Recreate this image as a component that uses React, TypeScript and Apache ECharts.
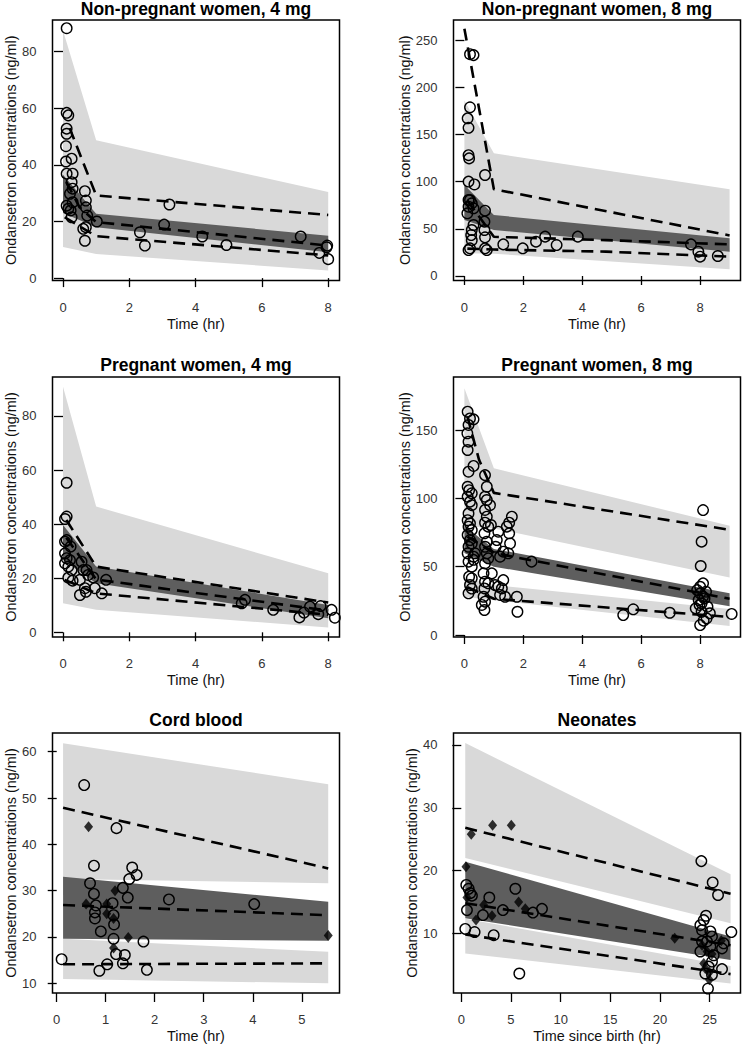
import React, { useEffect, useRef } from "react";
import * as echarts from "echarts";

const FONT = "'Liberation Sans', Arial, Helvetica, sans-serif";
const LIGHT = "#d9d9d9";
const DARK = "#5e5e5e";

const yAxisName = "Ondansetron concentrations (ng/ml)";
const xAxisName = "Time (hr)";
const xAxisNameNeonates = "Time since birth (hr)";

// ---------- Panel 1: Non-pregnant women, 4 mg ----------
const p1Title = "Non-pregnant women, 4 mg";
const p1XTicks = [0, 2, 4, 6, 8];
const p1YTicks = [0, 20, 40, 60, 80];
const p1BandTime = [0, 1, 8];
const p1UpperPIHi = [87.5, 48.7, 30.4];
const p1UpperPILo = [22, 17, 8];
const p1MedianCIHi = [36.5, 22.7, 15];
const p1MedianCILo = [23, 18, 9.1];
const p1LowerPIHi = [25, 19, 10];
const p1LowerPILo = [11, 8.5, 2.7];
const p1ObsHiTime = [0.2, 1, 8];
const p1ObsHi = [53, 29.2, 22.3];
const p1ObsMedTime = [0.1, 0.5, 1, 8];
const p1ObsMed = [34, 25, 19.8, 11.5];
const p1ObsLoTime = [0.05, 1, 8];
const p1ObsLo = [21.5, 14.8, 8];
const p1Obs = [
  [0.11, 88.3], [0.11, 58.4], [0.16, 57.5], [0.11, 52.8], [0.11, 51], [0.09, 46.6], [0.09, 41.2],
  [0.26, 42.2], [0.11, 36.9], [0.29, 36.9], [0.26, 33.9], [0.29, 31.6], [0.21, 29.8], [0.11, 25.6],
  [0.16, 24.5], [0.23, 23.9], [0.26, 21.5], [0.29, 26.8], [0.66, 30.7], [0.69, 27.4], [0.69, 25],
  [0.73, 22.1], [0.61, 17.4], [0.69, 18], [0.66, 13.2], [1.02, 20], [2.32, 16.2], [2.47, 11.5],
  [3.21, 26], [3.05, 18.9], [4.2, 14.7], [4.93, 11.7], [7.17, 14.7], [7.73, 8.9], [7.97, 11.5],
  [8.0, 6.7], [7.95, 10.9],
];

// ---------- Panel 2: Non-pregnant women, 8 mg ----------
const p2Title = "Non-pregnant women, 8 mg";
const p2XTicks = [0, 2, 4, 6, 8];
const p2YTicks = [0, 50, 100, 150, 200, 250];
const p2BandTime = [0, 1, 9];
const p2UpperPIHi = [186, 130, 91.8];
const p2UpperPILo = [60, 45, 25];
const p2MedianCIHi = [96.4, 64.6, 39.9];
const p2MedianCILo = [59.3, 48.7, 25.8];
const p2LowerPIHi = [70, 50, 30];
const p2LowerPILo = [24, 23.5, 7.1];
const p2ObsHiTime = [0, 1, 9];
const p2ObsHi = [262, 92, 43];
const p2ObsMedTime = [0.1, 1, 4.8, 9];
const p2ObsMed = [80, 41.5, 38, 33.5];
const p2ObsLoTime = [0.1, 1, 4.8, 9];
const p2ObsLo = [29, 28, 25.8, 20.5];
const p2Obs = [
  [0.31, 234], [0.19, 235], [0.19, 178.7], [0.11, 167], [0.14, 157], [0.14, 128], [0.16, 124.6],
  [0.14, 100], [0.34, 97], [0.7, 107], [0.14, 80.5], [0.19, 80.5], [0.25, 77], [0.31, 71.7],
  [0.1, 66.4], [0.14, 73.4], [0.7, 69.2], [0.68, 57.6], [0.68, 48.7], [0.7, 41], [0.25, 48.7],
  [0.23, 43.4], [0.25, 38], [0.19, 29.3], [0.14, 27.5], [0.7, 29.3], [0.76, 27.5], [0.31, 54],
  [1.32, 33.5], [1.98, 29.3], [2.43, 36.4], [2.74, 41.7], [3.13, 32.8], [3.85, 41.7], [7.69, 33.5],
  [7.94, 25.8], [8.0, 20.5], [8.6, 21.2],
];

// ---------- Panel 3: Pregnant women, 4 mg ----------
const p3Title = "Pregnant women, 4 mg";
const p3XTicks = [0, 2, 4, 6, 8];
const p3YTicks = [0, 20, 40, 60, 80];
const p3BandTime = [0, 1, 8];
const p3UpperPIHi = [90.8, 46.5, 21.8];
const p3UpperPILo = [30, 20, 7];
const p3MedianCIHi = [39.7, 24.3, 10.1];
const p3MedianCILo = [26.7, 18.1, 5.2];
const p3LowerPIHi = [30, 20, 7];
const p3LowerPILo = [10.7, 8.3, 1.8];
const p3ObsHiTime = [0.1, 1, 8];
const p3ObsHi = [41.5, 24.3, 11];
const p3ObsMedTime = [0.1, 1, 8];
const p3ObsMed = [35, 19.5, 8];
const p3ObsLoTime = [0.05, 1, 8];
const p3ObsLo = [19.4, 14.4, 6.5];
const p3Obs = [
  [0.11, 55.3], [0.11, 42.8], [0.06, 41.9], [0.11, 34.1], [0.06, 33.5], [0.23, 31.7], [0.06, 29.2],
  [0.11, 27.4], [0.21, 26.7], [0.06, 25.5], [0.16, 24.3], [0.26, 23], [0.16, 20.2], [0.29, 19.1],
  [0.56, 26.1], [0.61, 23], [0.71, 23], [0.76, 21.2], [0.51, 19.4], [0.66, 16.3], [0.51, 13.8],
  [0.69, 15], [0.91, 20.3], [0.96, 16.3], [1.3, 19.4], [1.17, 14.4], [5.39, 10.7], [5.49, 12],
  [6.34, 8.3], [7.13, 5.5], [7.27, 7.3], [7.45, 9.5], [7.7, 6.7], [7.77, 9.7], [8.1, 8.3], [8.2, 5.4],
];

// ---------- Panel 4: Pregnant women, 8 mg ----------
const p4Title = "Pregnant women, 8 mg";
const p4XTicks = [0, 2, 4, 6, 8];
const p4YTicks = [0, 50, 100, 150];
const p4BandTime = [0, 1, 9];
const p4UpperPIHi = [180.5, 122, 80];
const p4UpperPILo = [80, 78, 42];
const p4MedianCIHi = [80, 63, 30.5];
const p4MedianCILo = [60, 50, 21];
const p4LowerPIHi = [42, 36.5, 19];
const p4LowerPILo = [28, 25.5, 6.5];
const p4ObsHiTime = [0.1, 0.5, 1, 9];
const p4ObsHi = [160, 128, 104, 77];
const p4ObsMedTime = [0.1, 1, 9];
const p4ObsMed = [72, 60, 26.5];
const p4ObsLoTime = [0.1, 1, 9];
const p4ObsLo = [35, 26.5, 13.2];
const p4Obs = [
  [0.11, 163.4], [0.19, 158.5], [0.31, 157.8], [0.14, 153.7], [0.1, 147.6], [0.14, 141.5], [0.11, 135.4],
  [0.14, 119.5], [0.31, 123.7], [0.11, 108.5], [0.16, 106], [0.25, 103.7], [0.11, 101.2], [0.19, 97.6],
  [0.25, 95], [0.14, 89], [0.11, 84], [0.19, 81.7], [0.14, 79.3], [0.25, 76.8], [0.11, 73.2],
  [0.19, 69.5], [0.14, 64.6], [0.25, 67], [0.11, 59.8], [0.31, 57.3], [0.14, 53.7], [0.25, 50],
  [0.16, 42.7], [0.25, 41.5], [0.19, 36.6], [0.14, 30.5], [0.25, 34], [0.31, 55], [0.36, 59.8],
  [0.7, 117], [0.76, 108.5], [0.7, 101.2], [0.76, 98.8], [0.87, 95], [0.7, 91.5], [0.76, 86.6],
  [0.7, 82.2], [0.81, 79.3], [0.68, 74.4], [0.76, 68.3], [0.7, 64.6], [0.76, 59.8], [0.81, 56.1],
  [0.7, 52.4], [0.65, 45.1], [0.7, 39], [0.68, 34.1], [0.65, 28], [0.7, 24.4], [0.68, 18.3],
  [0.59, 22], [0.81, 37.8],
  [0.9, 80.5], [1.1, 69.5], [1.15, 75.6], [1.06, 64.6], [0.93, 45.1], [1.04, 36.6], [1.15, 35.4],
  [1.27, 34.1], [1.38, 28], [1.21, 29.3], [1.32, 40.2], [1.52, 74.4], [1.44, 79.3], [1.52, 82.2],
  [1.61, 86.6], [1.55, 67], [1.21, 57.3], [1.32, 61], [1.49, 59.8],
  [1.78, 28], [1.8, 17], [2.28, 53.7], [5.39, 14.6], [5.73, 18.8], [6.97, 16.3],
  [8.1, 91.4], [8.05, 68.3], [8.02, 50.5], [8.1, 37.8], [8.0, 35.3], [7.9, 32.9], [8.0, 30.5],
  [8.1, 28.1], [7.95, 25.6], [8.05, 23.2], [7.85, 19.5], [8.33, 15.9], [8.22, 12.2], [8.0, 7.3],
  [8.05, 17], [9.07, 15.4], [8.15, 26.8], [7.98, 22], [8.2, 31.7], [8.25, 20.7], [8.12, 10.5],
];

// ---------- Panel 5: Cord blood ----------
const p5Title = "Cord blood";
const p5XTicks = [0, 1, 2, 3, 4, 5];
const p5YTicks = [10, 20, 30, 40, 50, 60];
const p5BandTime = [0.13, 5.54];
const p5UpperPIHi = [61.8, 53];
const p5UpperPILo = [32.5, 31.6];
const p5MedianCIHi = [33, 27.6];
const p5MedianCILo = [19.6, 19.2];
const p5LowerPIHi = [19.6, 16.8];
const p5LowerPILo = [10.9, 10];
const p5ObsHiTime = [0.13, 5.54];
const p5ObsHi = [47.9, 34.8];
const p5ObsMedTime = [0.13, 5.54];
const p5ObsMed = [26.9, 24.7];
const p5ObsLoTime = [0.13, 5.54];
const p5ObsLo = [14.1, 14.3];
const p5Obs = [
  [0.56, 52.8], [1.22, 43.5], [0.76, 35.4], [0.68, 31.6], [0.76, 29.3], [0.8, 26.8], [0.78, 25.3],
  [0.78, 24], [0.9, 21.2], [1.14, 27.3], [1.16, 24.7], [1.17, 22.7], [1.16, 19.6], [1.21, 16.3],
  [1.03, 14.1], [0.87, 12.7], [1.35, 14.3], [1.39, 16.1], [1.35, 30.6], [1.45, 28.5], [1.48, 32.5],
  [1.54, 35], [1.63, 33.4], [1.77, 19], [1.84, 12.9], [0.1, 15.2], [2.29, 28.1], [4.03, 27.1],
];
const p5ObsFilled = [
  [0.65, 43.8], [0.6, 27.1], [1.02, 27.1], [1.02, 25], [1.16, 24], [1.19, 30], [1.16, 17.6],
  [1.46, 19.9], [5.54, 20.3],
];

// ---------- Panel 6: Neonates ----------
const p6Title = "Neonates";
const p6XTicks = [0, 5, 10, 15, 20, 25];
const p6YTicks = [10, 20, 30, 40];
const p6BandTime = [0.4, 27.1];
const p6UpperPIHi = [40.3, 19.4];
const p6UpperPILo = [22, 11.6];
const p6MedianCIHi = [21.4, 9.5];
const p6MedianCILo = [12.4, 5.75];
const p6LowerPIHi = [12.3, 4.8];
const p6LowerPILo = [6.8, 2.0];
const p6ObsHiTime = [0.4, 27.1];
const p6ObsHi = [26.8, 16.3];
const p6ObsMedTime = [0.4, 27.1];
const p6ObsMed = [14.8, 8.1];
const p6ObsLoTime = [0.4, 27.1];
const p6ObsLo = [9.8, 3.5];
const p6Obs = [
  [0.4, 10.7], [0.57, 13.7], [0.5, 17.7], [0.74, 17.1], [0.9, 16.4], [1.07, 16], [1.34, 10.2],
  [2.18, 12.9], [2.82, 15.7], [3.26, 9.7], [4.19, 13.7], [5.44, 17.1], [5.84, 3.6], [7.21, 13.3],
  [8.12, 13.9], [24.16, 21.5], [25.3, 18.1], [25.84, 16.1], [24.63, 12.8], [24.4, 12.1],
  [24.06, 11.3], [24.23, 10.5], [25.07, 10.3], [25.23, 9.5], [27.18, 10.2], [24.06, 7.1],
  [24.23, 8.7], [24.73, 8.7], [25.07, 7.9], [26.24, 7.6], [26.41, 8.4], [25.4, 6.5], [25.23, 5.5],
  [24.9, 4.7], [26.24, 4.3], [24.56, 3.6], [24.83, 1.2], [25.23, 3.4],
];
const p6ObsFilled = [
  [0.47, 20.6], [1.0, 25.8], [3.15, 27.2], [5.03, 27.2], [0.57, 15.7], [1.48, 12.1], [2.25, 14.5],
  [3.09, 12.8], [5.77, 15], [6.44, 13.9], [21.48, 9.2], [24.23, 8.1], [24.4, 5.2], [24.56, 4.4],
  [24.97, 2.6], [24.73, 7.1], [26.17, 8.8], [24.97, 3.8], [25.23, 6.7],
];

function bandSeries(g: number, t: number[], lo: number[], hi: number[], color: string) {
  return {
    type: "custom",
    xAxisIndex: g,
    yAxisIndex: g,
    silent: true,
    z: 1,
    data: t.map((x, i) => [x, lo[i], hi[i]]),
    encode: { x: 0, y: [1, 2] },
    renderItem: (params: any, api: any) => {
      if (params.dataIndex !== 0) return null;
      const pts: number[][] = [];
      for (let i = 0; i < t.length; i++) pts.push(api.coord([t[i], hi[i]]));
      for (let i = t.length - 1; i >= 0; i--) pts.push(api.coord([t[i], lo[i]]));
      return { type: "polygon", shape: { points: pts }, style: { fill: color } };
    },
  };
}

function lineSeries(g: number, t: number[], v: number[]) {
  return {
    type: "line",
    xAxisIndex: g,
    yAxisIndex: g,
    silent: true,
    z: 3,
    symbol: "none",
    data: t.map((x, i) => [x, v[i]]),
    lineStyle: { color: "#000", width: 2.6, type: [12, 7] },
  };
}

export default function App() {
  const ref = useRef<HTMLDivElement>(null);
  useEffect(() => {
    const chart = echarts.init(ref.current!, null, { renderer: "svg" });
    const panels = [
      {
        title: p1Title, xName: xAxisName, left: 52.5, top: 20, width: 287, height: 260.5, titleTop: 0,
        xMin: -0.317, xMax: 8.34, yMin: -0.85, yMax: 91.2, xTicks: p1XTicks, yTicks: p1YTicks,
        bt: p1BandTime, uHi: p1UpperPIHi, uLo: p1UpperPILo, mHi: p1MedianCIHi, mLo: p1MedianCILo,
        lHi: p1LowerPIHi, lLo: p1LowerPILo,
        lines: [[p1ObsHiTime, p1ObsHi], [p1ObsMedTime, p1ObsMed], [p1ObsLoTime, p1ObsLo]],
        obs: p1Obs, filled: [] as number[][],
      },
      {
        title: p2Title, xName: xAxisName, left: 453.5, top: 20, width: 287, height: 260.5, titleTop: 0,
        xMin: -0.37, xMax: 9.37, yMin: -4.77, yMax: 271.2, xTicks: p2XTicks, yTicks: p2YTicks,
        bt: p2BandTime, uHi: p2UpperPIHi, uLo: p2UpperPILo, mHi: p2MedianCIHi, mLo: p2MedianCILo,
        lHi: p2LowerPIHi, lLo: p2LowerPILo,
        lines: [[p2ObsHiTime, p2ObsHi], [p2ObsMedTime, p2ObsMed], [p2ObsLoTime, p2ObsLo]],
        obs: p2Obs, filled: [] as number[][],
      },
      {
        title: p3Title, xName: xAxisName, left: 52.5, top: 377, width: 287, height: 260, titleTop: 356,
        xMin: -0.317, xMax: 8.34, yMin: -1.74, yMax: 94.4, xTicks: p3XTicks, yTicks: p3YTicks,
        bt: p3BandTime, uHi: p3UpperPIHi, uLo: p3UpperPILo, mHi: p3MedianCIHi, mLo: p3MedianCILo,
        lHi: p3LowerPIHi, lLo: p3LowerPILo,
        lines: [[p3ObsHiTime, p3ObsHi], [p3ObsMedTime, p3ObsMed], [p3ObsLoTime, p3ObsLo]],
        obs: p3Obs, filled: [] as number[][],
      },
      {
        title: p4Title, xName: xAxisName, left: 453.5, top: 377, width: 287, height: 260, titleTop: 356,
        xMin: -0.37, xMax: 9.37, yMin: -1.46, yMax: 188.8, xTicks: p4XTicks, yTicks: p4YTicks,
        bt: p4BandTime, uHi: p4UpperPIHi, uLo: p4UpperPILo, mHi: p4MedianCIHi, mLo: p4MedianCILo,
        lHi: p4LowerPIHi, lLo: p4LowerPILo,
        lines: [[p4ObsHiTime, p4ObsHi], [p4ObsMedTime, p4ObsMed], [p4ObsLoTime, p4ObsLo]],
        obs: p4Obs, filled: [] as number[][],
      },
      {
        title: p5Title, xName: xAxisName, left: 52.5, top: 733, width: 287, height: 260, titleTop: 711,
        xMin: -0.086, xMax: 5.77, yMin: 7.9, yMax: 64.04, xTicks: p5XTicks, yTicks: p5YTicks,
        bt: p5BandTime, uHi: p5UpperPIHi, uLo: p5UpperPILo, mHi: p5MedianCIHi, mLo: p5MedianCILo,
        lHi: p5LowerPIHi, lLo: p5LowerPILo,
        lines: [[p5ObsHiTime, p5ObsHi], [p5ObsMedTime, p5ObsMed], [p5ObsLoTime, p5ObsLo]],
        obs: p5Obs, filled: p5ObsFilled,
      },
      {
        title: p6Title, xName: xAxisNameNeonates, left: 453.5, top: 733, width: 287, height: 260, titleTop: 711,
        xMin: -0.785, xMax: 28.1, yMin: 0.49, yMax: 41.91, xTicks: p6XTicks, yTicks: p6YTicks,
        bt: p6BandTime, uHi: p6UpperPIHi, uLo: p6UpperPILo, mHi: p6MedianCIHi, mLo: p6MedianCILo,
        lHi: p6LowerPIHi, lLo: p6LowerPILo,
        lines: [[p6ObsHiTime, p6ObsHi], [p6ObsMedTime, p6ObsMed], [p6ObsLoTime, p6ObsLo]],
        obs: p6Obs, filled: p6ObsFilled,
      },
    ];

    const grid: any[] = [];
    const xAxis: any[] = [];
    const yAxis: any[] = [];
    const series: any[] = [];
    const title: any[] = [];

    panels.forEach((p, g) => {
      grid.push({
        left: p.left, top: p.top, width: p.width, height: p.height,
        show: true, borderColor: "#000", borderWidth: 1.5, backgroundColor: "transparent",
        containLabel: false, outerBoundsMode: "none",
      });
      xAxis.push({
        gridIndex: g, type: "value", min: p.xMin, max: p.xMax,
        axisLine: { show: false }, splitLine: { show: false },
        axisTick: { show: true, inside: false, length: 9, customValues: p.xTicks, lineStyle: { color: "#000", width: 1.3 } },
        axisLabel: { show: true, customValues: p.xTicks, margin: 20, fontSize: 13, color: "#333", fontFamily: FONT },
        name: p.xName, nameLocation: "middle", nameGap: 36,
        nameTextStyle: { fontSize: 14.4, color: "#111", fontFamily: FONT },
      });
      yAxis.push({
        gridIndex: g, type: "value", min: p.yMin, max: p.yMax,
        axisLine: { show: false }, splitLine: { show: false },
        axisTick: { show: true, inside: false, length: 9, customValues: p.yTicks, lineStyle: { color: "#000", width: 1.3 } },
        axisLabel: { show: true, customValues: p.yTicks, margin: 16, fontSize: 13, color: "#333", fontFamily: FONT },
        name: yAxisName, nameLocation: "middle", nameGap: 35,
        nameTextStyle: { fontSize: 14.4, color: "#111", fontFamily: FONT },
      });
      title.push({
        text: p.title, left: p.left + p.width / 2, top: p.titleTop, textAlign: "center", padding: 0,
        textStyle: { fontSize: 17.5, lineHeight: 18, fontWeight: "bold", color: "#000", fontFamily: FONT },
      });
      series.push(bandSeries(g, p.bt, p.uLo, p.uHi, LIGHT));
      series.push(bandSeries(g, p.bt, p.lLo, p.lHi, LIGHT));
      series.push(bandSeries(g, p.bt, p.mLo, p.mHi, DARK));
      p.lines.forEach((l) => series.push(lineSeries(g, l[0], l[1])));
      series.push({
        type: "scatter", xAxisIndex: g, yAxisIndex: g, z: 4, silent: true,
        symbol: "circle", symbolSize: 10.5, data: p.obs,
        itemStyle: { color: "rgba(0,0,0,0)", borderColor: "#000", borderWidth: 1.4, opacity: 1 },
      });
      if (p.filled.length) {
        series.push({
          type: "scatter", xAxisIndex: g, yAxisIndex: g, z: 5, silent: true,
          symbol: "diamond", symbolSize: [9, 11], data: p.filled,
          itemStyle: { color: "#000" },
        });
      }
    });

    chart.setOption({ animation: false, backgroundColor: "#fff", title, grid, xAxis, yAxis, series });
    return () => chart.dispose();
  }, []);
  return (
    <div
      ref={ref}
      style={{ position: "absolute", left: 0, top: 0, width: 743, height: 1050, background: "#fff" }}
    />
  );
}
